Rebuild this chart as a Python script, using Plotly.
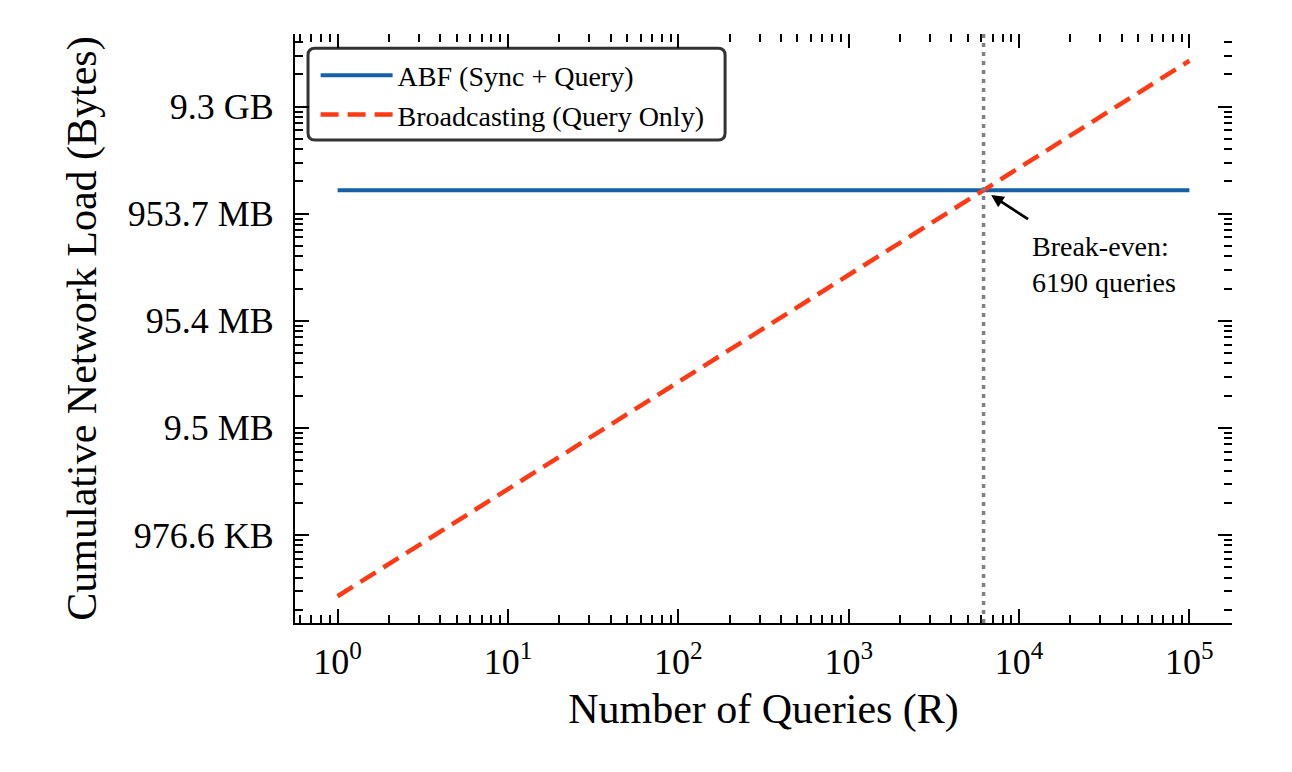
import numpy as np
import plotly.graph_objects as go

# data
queries = [1, 10, 100, 1000, 10000, 100000]
abf_bytes = [1.659e9, 1.659e9, 1.659e9, 1.659e9, 1.659e9, 1.659e9]
broadcast_bytes = [2.68e5, 2.68e6, 2.68e7, 2.68e8, 2.68e9, 2.68e10]
break_even = 6190

x_tickvals = [1, 10, 100, 1000, 10000, 100000]
x_ticktext = ["10<sup>0</sup>", "10<sup>1</sup>", "10<sup>2</sup>",
              "10<sup>3</sup>", "10<sup>4</sup>", "10<sup>5</sup>"]
y_tickvals = [1e6, 1e7, 1e8, 1e9, 1e10]
y_ticktext = ["976.6 KB", "9.5 MB", "95.4 MB", "953.7 MB", "9.3 GB"]

FONT = "Liberation Serif"
BLUE = "#1660A8"
RED = "#FF3A14"

# matplotlib-like 5% margins in log space
lx = np.log10(queries)
ly = np.log10(broadcast_bytes)
xr = [lx.min() - 0.05 * (lx.max() - lx.min()), lx.max() + 0.05 * (lx.max() - lx.min())]
yr = [ly.min() - 0.05 * (ly.max() - ly.min()), ly.max() + 0.05 * (ly.max() - ly.min())]

fig = go.Figure()
fig.add_trace(go.Scatter(x=queries, y=abf_bytes, mode="lines",
                         name="ABF (Sync + Query)",
                         line=dict(color=BLUE, width=4)))
fig.add_trace(go.Scatter(x=queries, y=broadcast_bytes, mode="lines",
                         name="Broadcasting (Query Only)",
                         line=dict(color=RED, width=4.5, dash="18px,9px")))

# vertical break-even line
fig.add_shape(type="line", xref="x", yref="paper", x0=break_even, x1=break_even,
              y0=0, y1=1, line=dict(color="#808080", width=3.5, dash="4px,5px"),
              layer="above")

# arrow + label
fig.add_annotation(x=np.log10(break_even), y=np.log10(abf_bytes[0]), xref="x", yref="y",
                   text="", showarrow=True, ax=46, ay=30, arrowhead=2, arrowsize=0.9,
                   arrowwidth=2.8, arrowcolor="black", standoff=9)
fig.add_annotation(x=4.063, y=8.86, xref="x", yref="y", xanchor="left", yanchor="top",
                   text="Break-even:<br>6190 queries", showarrow=False, align="left",
                   font=dict(family=FONT, size=28, color="black"))

# rounded legend frame
x0, x1, y0, y1 = 0.0139, 0.459, 0.820, 0.976
rx, ry = 7 / 937, 7 / 589
path = (f"M {x0+rx},{y0} L {x1-rx},{y0} Q {x1},{y0} {x1},{y0+ry} "
        f"L {x1},{y1-ry} Q {x1},{y1} {x1-rx},{y1} L {x0+rx},{y1} Q {x0},{y1} {x0},{y1-ry} "
        f"L {x0},{y0+ry} Q {x0},{y0} {x0+rx},{y0} Z")
fig.add_shape(type="path", xref="paper", yref="paper", path=path,
              line=dict(color="#333333", width=3), fillcolor="white", layer="below")

tick_common = dict(ticks="inside", ticklen=14, tickwidth=2, tickcolor="black",
                   minor=dict(ticks="inside", ticklen=8, tickwidth=1.5, tickcolor="black",
                              dtick="D1", showgrid=False),
                   showgrid=False, zeroline=False, type="log")

fig.update_layout(
    width=1292, height=772,
    margin=dict(l=287, r=68, t=26, b=157),
    paper_bgcolor="white", plot_bgcolor="white",
    font=dict(family=FONT, color="black"),
    showlegend=True,
    legend=dict(x=0.022, y=0.972, xanchor="left", yanchor="top",
                bgcolor="rgba(0,0,0,0)", borderwidth=0, itemwidth=72,
                font=dict(family=FONT, size=28), tracegroupgap=0),
    xaxis=dict(range=xr, tickmode="array", tickvals=x_tickvals, ticktext=x_ticktext,
               tickfont=dict(size=36), showline=True, linecolor="black", linewidth=2,
               ticklabelstandoff=6,
               title=dict(text="Number of Queries (R)", font=dict(size=42), standoff=12),
               **tick_common),
    yaxis=dict(range=yr, tickmode="array", tickvals=y_tickvals, ticktext=y_ticktext,
               tickfont=dict(size=36), showline=True, linecolor="black", linewidth=2,
               ticklabelstandoff=12,
               title=dict(text="Cumulative Network Load (Bytes)", font=dict(size=42),
                          standoff=18),
               **tick_common),
    xaxis2=dict(range=xr, overlaying="x", side="top", anchor="y", showticklabels=False,
                tickmode="array", tickvals=x_tickvals, showline=False, **tick_common),
    yaxis2=dict(range=yr, overlaying="y", side="right", anchor="x", showticklabels=False,
                tickmode="array", tickvals=y_tickvals, showline=False, **tick_common),
)
# invisible trace so the mirrored axes get drawn
fig.add_trace(go.Scatter(x=[queries[0]], y=[broadcast_bytes[0]], xaxis="x2", yaxis="y2",
                         mode="markers", marker=dict(opacity=0), showlegend=False,
                         hoverinfo="skip"))

fig.write_html("out.html")
